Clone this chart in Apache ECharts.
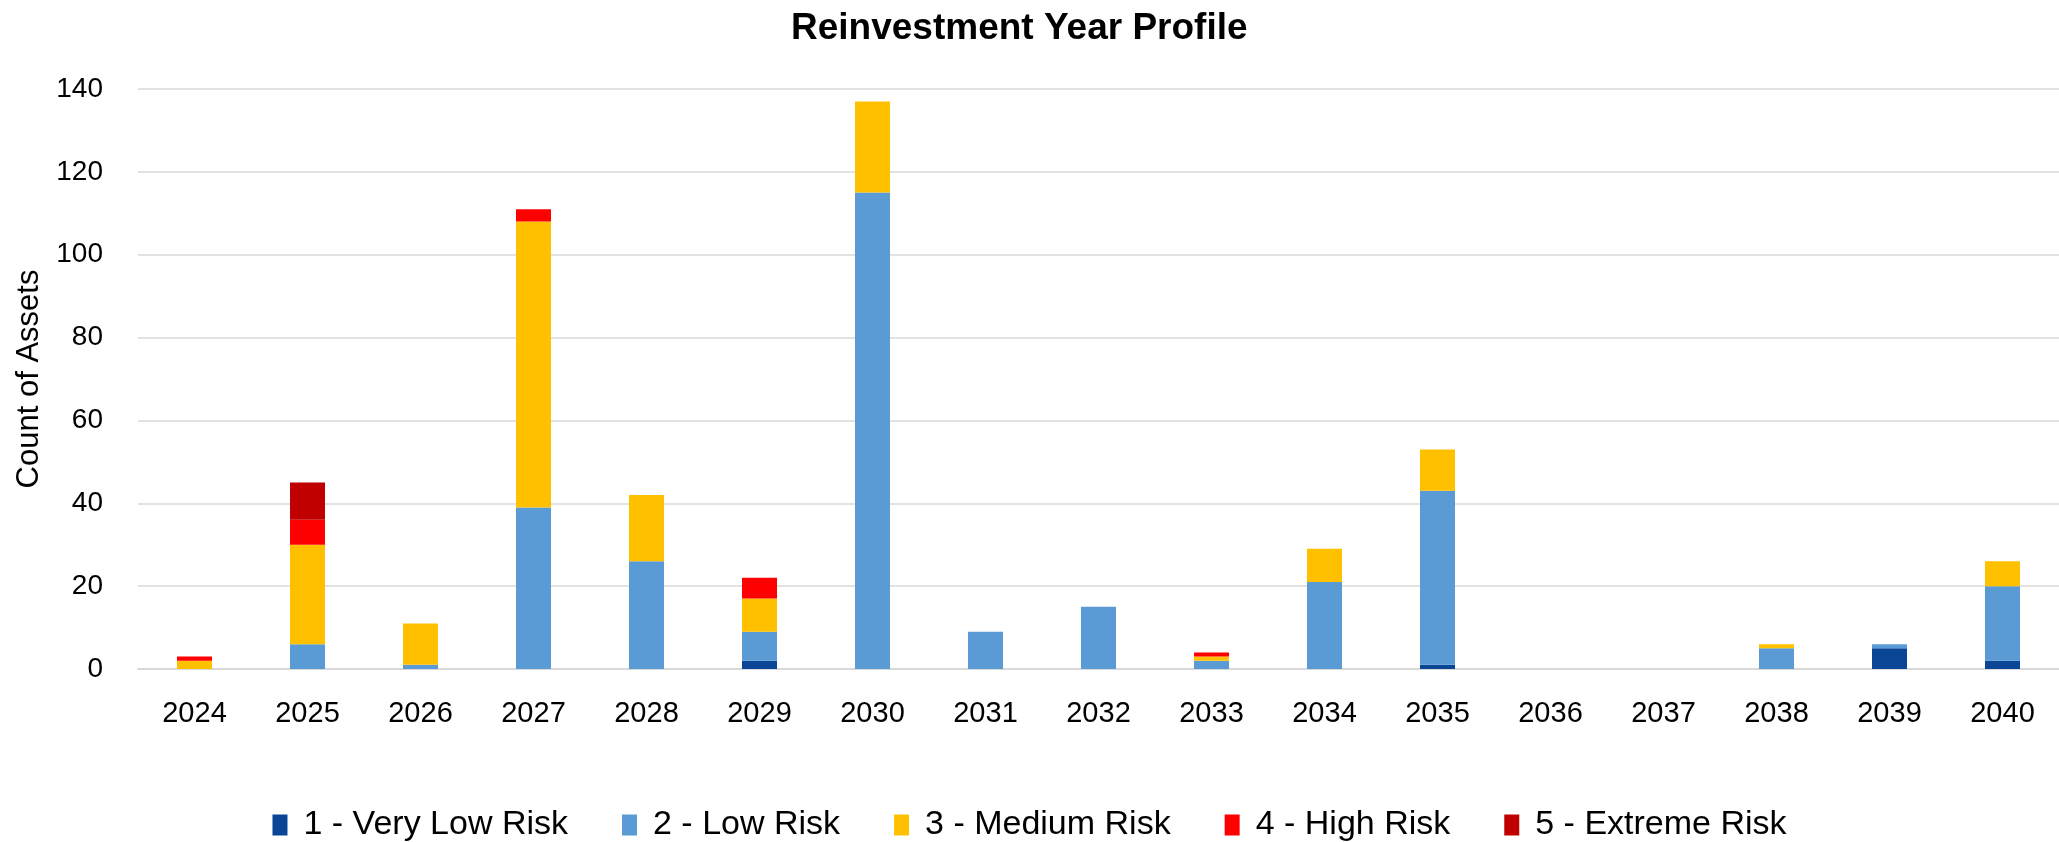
<!DOCTYPE html>
<html>
<head>
<meta charset="utf-8">
<title>Reinvestment Year Profile</title>
<script src="https://cdn.jsdelivr.net/npm/echarts@6/dist/echarts.min.js"></script>
<style>
  html, body { margin: 0; padding: 0; background: #fff; }
  #chart { width: 2059px; height: 842px; }
</style>
</head>
<body>
<div id="chart"></div>
<script>
// years on the x axis
const years = ["2024", "2025", "2026", "2027", "2028", "2029", "2030", "2031", "2032",
               "2033", "2034", "2035", "2036", "2037", "2038", "2039", "2040"];

// count of assets per risk rating
const veryLowRisk = [0, 0, 0, 0, 0, 2, 0, 0, 0, 0, 0, 1, 0, 0, 0, 5, 2];
const lowRisk     = [0, 6, 1, 39, 26, 7, 115, 9, 15, 2, 21, 42, 0, 0, 5, 1, 18];
const mediumRisk  = [2, 24, 10, 69, 16, 8, 22, 0, 0, 1, 8, 10, 0, 0, 1, 0, 6];
const highRisk    = [1, 6, 0, 3, 0, 5, 0, 0, 0, 1, 0, 0, 0, 0, 0, 0, 0];
const extremeRisk = [0, 9, 0, 0, 0, 0, 0, 0, 0, 0, 0, 0, 0, 0, 0, 0, 0];

const seriesNames = ["1 - Very Low Risk", "2 - Low Risk", "3 - Medium Risk", "4 - High Risk", "5 - Extreme Risk"];
const seriesData = [veryLowRisk, lowRisk, mediumRisk, highRisk, extremeRisk];
const seriesColors = ["#0B4595", "#5B9BD5", "#FFC000", "#FF0000", "#C00000"];

const font = '"Liberation Sans", Arial, sans-serif';

const chart = echarts.init(document.getElementById("chart"));

const option = {
    animation: false,
    title: {
        text: "Reinvestment Year Profile",
        left: 786,
        top: 5,
        textStyle: { fontFamily: font, fontWeight: "bold", fontSize: 37, color: "#000" }
    },
    legend: {
        data: seriesNames,
        left: "center",
        top: 803,
        itemWidth: 15,
        itemHeight: 21,
        itemGap: 54,
        icon: "rect",
        textStyle: { fontFamily: font, fontSize: 34, color: "#000", padding: [0, 0, 0, 11] }
    },
    grid: { left: 138, right: 0, top: 89, bottom: 173, outerBoundsMode: "none" },
    xAxis: {
        type: "category",
        data: years,
        axisLine: { lineStyle: { color: "#d9d9d9", width: 2 } },
        axisTick: { show: false },
        axisLabel: { fontFamily: font, fontSize: 29, color: "#000", margin: 30 }
    },
    yAxis: {
        type: "value",
        min: 0,
        max: 140,
        interval: 20,
        name: "Count of Assets",
        nameLocation: "middle",
        nameGap: 90,
        nameTextStyle: { fontFamily: font, fontSize: 31, color: "#000" },
        axisLine: { show: false },
        axisTick: { show: false },
        axisLabel: { fontFamily: font, fontSize: 28, color: "#000", margin: 35 },
        splitLine: { lineStyle: { color: "#d9d9d9", width: 1.5 } }
    },
    series: seriesNames.map(function (name, i) {
        return {
            name: name,
            type: "bar",
            stack: "risk",
            barWidth: 35,
            data: seriesData[i],
            itemStyle: { color: seriesColors[i] }
        };
    })
};

chart.setOption(option);
</script>
</body>
</html>
